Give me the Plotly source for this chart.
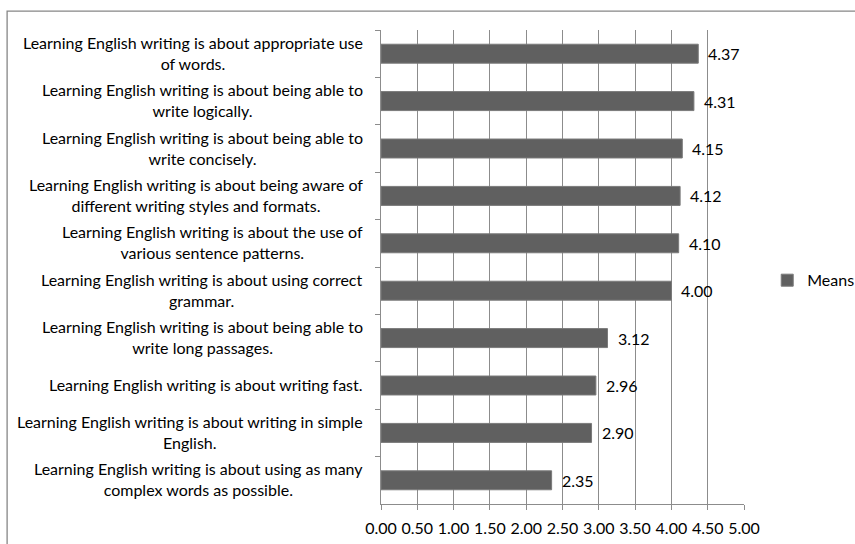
import plotly.graph_objects as go

# Survey statements, top to bottom, with the line breaks used for the axis labels
statements = [
    "Learning English writing is about appropriate use<br>of words.",
    "Learning English writing is about being able to<br>write logically.",
    "Learning English writing is about being able to<br>write concisely.",
    "Learning English writing is about being aware of<br>different writing styles and formats.",
    "Learning English writing is about the use of<br>various sentence patterns.",
    "Learning English writing is about using correct<br>grammar.",
    "Learning English writing is about being able to<br>write long passages.",
    "Learning English writing is about writing fast.",
    "Learning English writing is about writing in simple<br>English.",
    "Learning English writing is about using as many<br>complex words as possible.",
]
means = [4.37, 4.31, 4.15, 4.12, 4.10, 4.00, 3.12, 2.96, 2.90, 2.35]
x_ticks = [0.0, 0.5, 1.0, 1.5, 2.0, 2.5, 3.0, 3.5, 4.0, 4.5, 5.0]

FONT = "Lato, Calibri, 'Open Sans', sans-serif"
GRID = "#8c8c8c"
FS = 16

fig = go.Figure()
fig.add_trace(go.Bar(
    x=means,
    y=statements,
    orientation="h",
    name="Means",
    marker=dict(color="#606060", line=dict(color="#7a7a7a", width=1)),
    hoverinfo="x+y",
))

# Category labels: right-aligned block, lines centred within it
annotations = []
for s in statements:
    annotations.append(dict(
        x=0, xref="paper", y=s, yref="y",
        text=s, showarrow=False, xanchor="right", align="center",
        xshift=-16, yshift=1, font=dict(family=FONT, size=FS, color="#000000"),
    ))

# Value labels just past each bar end
for s, v in zip(statements, means):
    annotations.append(dict(
        x=v, xref="x", y=s, yref="y",
        text=f"{v:.2f}", showarrow=False, xanchor="left",
        xshift=8, font=dict(family=FONT, size=FS, color="#000000"),
    ))

fig.update_layout(
    width=855, height=544,
    margin=dict(l=381, r=111, t=30, b=40, autoexpand=False),
    paper_bgcolor="white", plot_bgcolor="white",
    bargap=0.6,
    font=dict(family=FONT, size=FS, color="#000000"),
    showlegend=True,
    legend=dict(
        x=1.064, xanchor="left", y=0.472, yanchor="middle",
        font=dict(family=FONT, size=FS, color="#000000"),
        bgcolor="rgba(0,0,0,0)",
    ),
    annotations=annotations,
    shapes=[dict(
        type="rect", xref="paper", yref="paper",
        x0=-1.030, x1=1.32, y0=-0.10, y1=1.040,
        line=dict(color="#868686", width=1.3), fillcolor="rgba(0,0,0,0)",
        layer="below",
    )],
)

fig.update_xaxes(
    range=[0, 5], tickvals=x_ticks, ticktext=[f"{t:.2f}" for t in x_ticks],
    showgrid=True, gridcolor=GRID, gridwidth=1,
    showline=True, linecolor=GRID, linewidth=1,
    ticks="outside", ticklen=5, tickcolor=GRID,
    ticklabelstandoff=5, zeroline=False,
    tickfont=dict(family=FONT, size=FS, color="#000000"),
)
fig.update_yaxes(
    autorange="reversed", type="category",
    showticklabels=False, showgrid=False,
    showline=True, linecolor=GRID, linewidth=1,
    ticks="outside", ticklen=5, tickcolor=GRID, tickson="boundaries",
)

fig.write_html("out.html")
